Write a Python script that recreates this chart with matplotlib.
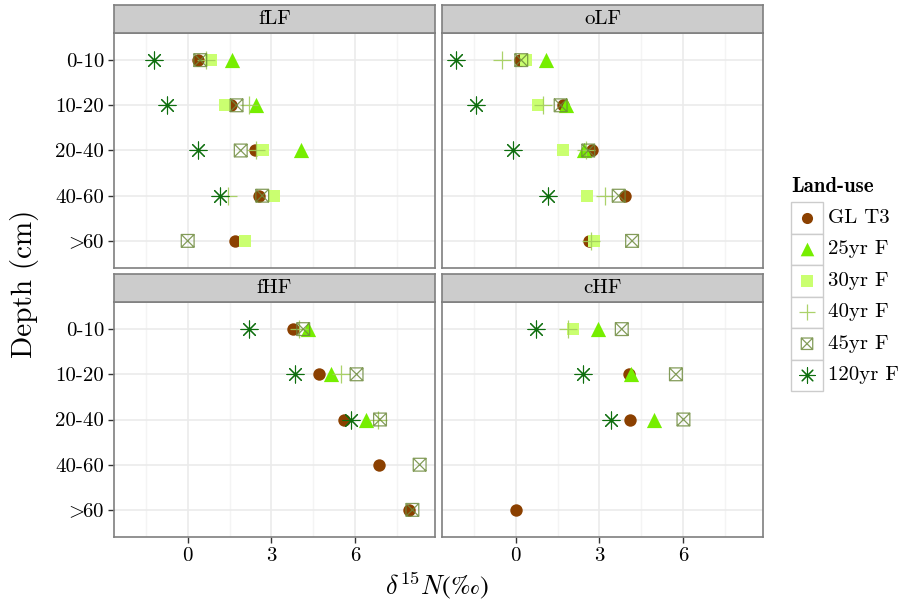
import numpy as np
import matplotlib
matplotlib.use("Agg")
import matplotlib.pyplot as plt
from matplotlib.path import Path
from matplotlib.patches import Rectangle

plt.rcParams['font.family'] = ['cmr10', 'DejaVu Serif']
plt.rcParams['mathtext.fontset'] = 'cm'
plt.rcParams['axes.unicode_minus'] = False

nan = np.nan
depths = ['0-10', '10-20', '20-40', '40-60', r'$>\!\!60$']
panels = ['fLF', 'oLF', 'fHF', 'cHF']
land_use = ['GL T3', '25yr F', '30yr F', '40yr F', '45yr F', '120yr F']

# d15N per panel, one list per land use, rows follow depths
fLF = {
    'GL T3':   [0.37, 1.56, 2.40, 2.57, 1.70],
    '25yr F':  [1.58, 2.46, 4.05, nan, nan],
    '30yr F':  [0.82, 1.35, 2.70, 3.10, 2.06],
    '40yr F':  [0.67, 2.19, 2.43, 1.44, nan],
    '45yr F':  [0.45, 1.75, 1.90, 2.67, 0.00],
    '120yr F': [-1.20, -0.74, 0.37, 1.14, nan],
}
oLF = {
    'GL T3':   [0.14, 1.71, 2.74, 3.90, 2.61],
    '25yr F':  [1.10, 1.81, 2.43, nan, nan],
    '30yr F':  [0.36, 0.81, 1.68, 2.56, 2.81],
    '40yr F':  [-0.50, 0.99, 2.52, 3.21, 2.70],
    '45yr F':  [0.20, 1.61, 2.60, 3.69, 4.17],
    '120yr F': [-2.14, -1.43, -0.09, 1.15, nan],
}
fHF = {
    'GL T3':   [3.79, 4.71, 5.60, 6.87, 7.93],
    '25yr F':  [4.32, 5.13, 6.40, nan, nan],
    '30yr F':  [nan, nan, nan, nan, nan],
    '40yr F':  [4.00, 5.50, 6.83, nan, nan],
    '45yr F':  [4.14, 6.05, 6.89, 8.31, 8.05],
    '120yr F': [2.21, 3.83, 5.86, nan, nan],
}
cHF = {
    'GL T3':   [nan, 4.05, 4.10, nan, 0.00],
    '25yr F':  [2.95, 4.13, 4.94, nan, nan],
    '30yr F':  [2.06, nan, nan, nan, nan],
    '40yr F':  [1.87, nan, nan, nan, nan],
    '45yr F':  [3.80, 5.74, 6.01, nan, nan],
    '120yr F': [0.74, 2.40, 3.40, nan, nan],
}
panel_data = [fLF, oLF, fHF, cHF]

# square with a cross, like ggplot shape 7
box_x = Path([(-1, -1), (1, -1), (1, 1), (-1, 1), (-1, -1),
              (-1, -1), (1, 1), (-1, 1), (1, -1)],
             [Path.MOVETO, Path.LINETO, Path.LINETO, Path.LINETO, Path.CLOSEPOLY,
              Path.MOVETO, Path.LINETO, Path.MOVETO, Path.LINETO])

styles = {
    'GL T3':   dict(marker='o', s=80, color='#8B4000', lw=0),
    '25yr F':  dict(marker='^', s=120, color='#76EE00', lw=0),
    '30yr F':  dict(marker='s', s=80, color='#CAFF70', lw=0),
    '40yr F':  dict(marker='+', s=150, color='#A2CD5A', lw=0.9, alpha=0.9),
    '45yr F':  dict(marker=box_x, s=85, facecolor='none', edgecolor='#6E8B3D', lw=0.9, alpha=0.85),
    '120yr F': dict(marker=(8, 2, 0), s=150, color='#0E6E0E', lw=0.8),
}

W, H = 907, 608
fig = plt.figure(figsize=(W / 100, H / 100), dpi=100)

def frac(x0, y0, x1, y1):
    return [x0 / W, 1 - y1 / H, (x1 - x0) / W, (y1 - y0) / H]

lefts = [(114, 435), (442, 763)]
tops = [(5, 33, 268), (274, 302, 537)]
yy = np.arange(len(depths))

for k, (name, data) in enumerate(zip(panels, panel_data)):
    r, c = divmod(k, 2)
    x0, x1 = lefts[c]
    s0, p0, p1 = tops[r]
    ax = fig.add_axes(frac(x0, p0, x1, p1))
    ax.set_xlim(-2.64, 8.86)
    ax.set_ylim(len(depths) - 0.4, -0.6)
    ax.set_xticks([0, 3, 6])
    ax.set_xticks([-1.5, 1.5, 4.5, 7.5], minor=True)
    ax.set_yticks(yy)
    ax.grid(True, which='major', color='#EBEBEB', lw=1.2)
    ax.grid(True, which='minor', axis='x', color='#F4F4F4', lw=1.0)
    ax.set_axisbelow(True)
    for sp in ax.spines.values():
        sp.set_color('#7F7F7F')
        sp.set_linewidth(1.2)
    ax.tick_params(which='major', length=4, width=1, color='#333333', labelsize=15, pad=3)
    ax.tick_params(which='minor', length=0)
    if c == 0:
        ax.set_yticklabels(depths)
    else:
        ax.tick_params(axis='y', length=0, labelleft=False)
    if r == 1:
        ax.set_xticklabels(['0', '3', '6'])
    else:
        ax.tick_params(axis='x', length=0, labelbottom=False)

    for lu in land_use:
        ax.scatter(data[lu], yy, zorder=3, **styles[lu])

    # facet strip
    sax = fig.add_axes(frac(x0, s0, x1, p0))
    sax.set_facecolor('#CCCCCC')
    sax.set_xticks([])
    sax.set_yticks([])
    for sp in sax.spines.values():
        sp.set_color('#7F7F7F')
        sp.set_linewidth(1.2)
    sax.text(0.5, 0.5, name, ha='center', va='center', fontsize=15, transform=sax.transAxes)

fig.text(25 / W, 1 - 284 / H, 'Depth (cm)', rotation=90, ha='center', va='center', fontsize=21)
fig.text(437 / W, 1 - 586 / H, r'$\delta^{15}N$(‰)', fontfamily='STIXGeneral',
         ha='center', va='center', fontsize=19)

# legend drawn by hand to get ggplot style key boxes
lax = fig.add_axes([0, 0, 1, 1], facecolor='none')
lax.set_xlim(0, W)
lax.set_ylim(H, 0)
lax.axis('off')
lax.text(791, 186, 'Land-use', fontfamily='cmb10', fontsize=15, ha='left', va='center')
key_h = 31.5
for i, lu in enumerate(land_use):
    ytop = 202 + i * key_h
    lax.add_patch(Rectangle((791, ytop), 32, key_h, facecolor='white', edgecolor='#CCCCCC', lw=1))
    st = dict(styles[lu])
    st['s'] = st['s'] * 0.8
    lax.scatter([807], [ytop + key_h / 2], zorder=3, **st)
    lax.text(828, ytop + key_h / 2, lu, fontsize=15, ha='left', va='center')

fig.savefig('out.png', dpi=100)
